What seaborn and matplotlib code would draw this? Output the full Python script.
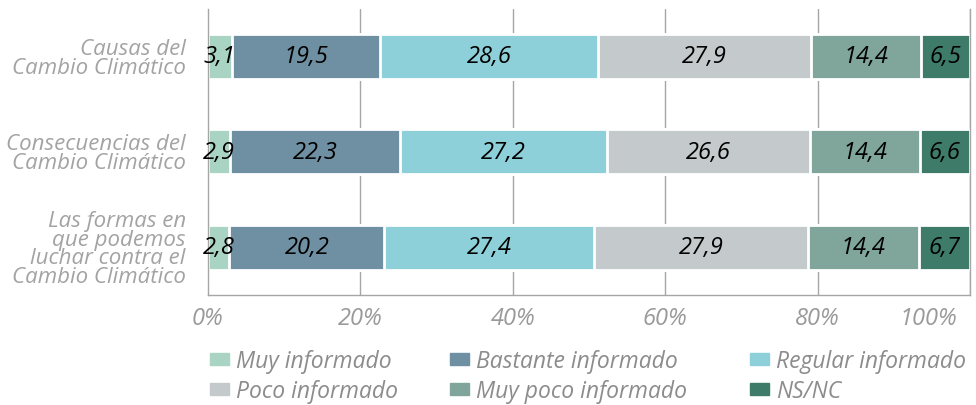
import pandas as pd
import seaborn as sns
import matplotlib.pyplot as plt
import matplotlib.transforms as mtrans
from matplotlib.patches import Patch

temas = ["Causas del\nCambio Climático",
         "Consecuencias del\nCambio Climático",
         "Las formas en\nque podemos\nluchar contra el\nCambio Climático"]
niveles = ["Muy informado", "Bastante informado", "Regular informado",
           "Poco informado", "Muy poco informado", "NS/NC"]
muy = [3.1, 2.9, 2.8]
bastante = [19.5, 22.3, 20.2]
regular = [28.6, 27.2, 27.4]
poco = [27.9, 26.6, 27.9]
muy_poco = [14.4, 14.4, 14.4]
nsnc = [6.5, 6.6, 6.7]
colores = ["#a9d3c3", "#6f90a3", "#8dd0d9", "#c4cacb", "#80a59a", "#3e7b68"]

sns.set_style("white")
plt.rcParams["font.family"] = ["Open Sans", "DejaVu Sans"]
plt.rcParams["font.style"] = "italic"

df = pd.DataFrame({"tema": temas, niveles[0]: muy, niveles[1]: bastante,
                   niveles[2]: regular, niveles[3]: poco,
                   niveles[4]: muy_poco, niveles[5]: nsnc})
vals = df[niveles]
pct = vals.div(vals.sum(axis=1), axis=0) * 100
cum = pct.cumsum(axis=1)

fig = plt.figure(figsize=(9.76, 4.06), dpi=100)
ax = fig.add_axes([0.2131, 0.271, 0.7808, 0.705])

gris = "#a6a6a6"
for x in [20, 40, 60, 80, 100]:
    ax.axvline(x, color=gris, lw=1, zorder=0)

# stacked by drawing the cumulative totals, longest first
for i in range(len(niveles) - 1, -1, -1):
    d = pd.DataFrame({"tema": temas, "v": cum[niveles[i]].values})
    sns.barplot(data=d, x="v", y="tema", color=colores[i], saturation=1,
                width=0.47, edgecolor="white", linewidth=2, ax=ax, zorder=2)

for r in range(len(temas)):
    for i, n in enumerate(niveles):
        centro = cum[n].iloc[r] - pct[n].iloc[r] / 2
        ax.text(centro, r, f"{vals[n].iloc[r]:.1f}".replace(".", ","),
                ha="center", va="center", fontsize=17, color="black", zorder=3)

ax.set_xlim(0, 100)
ax.set_ylim(2.5, -0.5)
ax.set_xticks([0, 20, 40, 60, 80, 100])
ax.set_xticklabels([f"{t}%" for t in range(0, 101, 20)])
ax.set_xlabel("")
ax.set_ylabel("")
ax.set_yticks([-0.5, 0.5, 1.5, 2.5], minor=True)
ax.tick_params(axis="y", which="major", length=0, labelsize=16, labelcolor="#a3a3a3", pad=16)
ax.tick_params(axis="y", which="minor", length=10, color=gris, width=1)
ax.tick_params(axis="x", length=0, labelsize=17, labelcolor="#9a9a9a", pad=8)
for lab in ax.get_yticklabels():
    lab.set_linespacing(0.85)
ultimo = ax.get_xticklabels()[-1]
ultimo.set_horizontalalignment("right")
ultimo.set_transform(ultimo.get_transform() + mtrans.ScaledTranslation(-0.13, 0, fig.dpi_scale_trans))
for s in ["left", "bottom", "right"]:
    ax.spines[s].set_color(gris)
    ax.spines[s].set_linewidth(1)
ax.spines["top"].set_visible(False)

for c, x in enumerate([0.215, 0.461, 0.768]):
    hs = [Patch(color=colores[c]), Patch(color=colores[c + 3])]
    fig.legend(hs, [niveles[c], niveles[c + 3]], loc="center left",
               bbox_to_anchor=(x, 0.071), frameon=False, fontsize=16.5,
               labelcolor="#8c8c8c", handlelength=0.85, handleheight=0.45,
               handletextpad=0.3, labelspacing=0.28, borderpad=0, borderaxespad=0)

fig.savefig("out.png", dpi=100)
